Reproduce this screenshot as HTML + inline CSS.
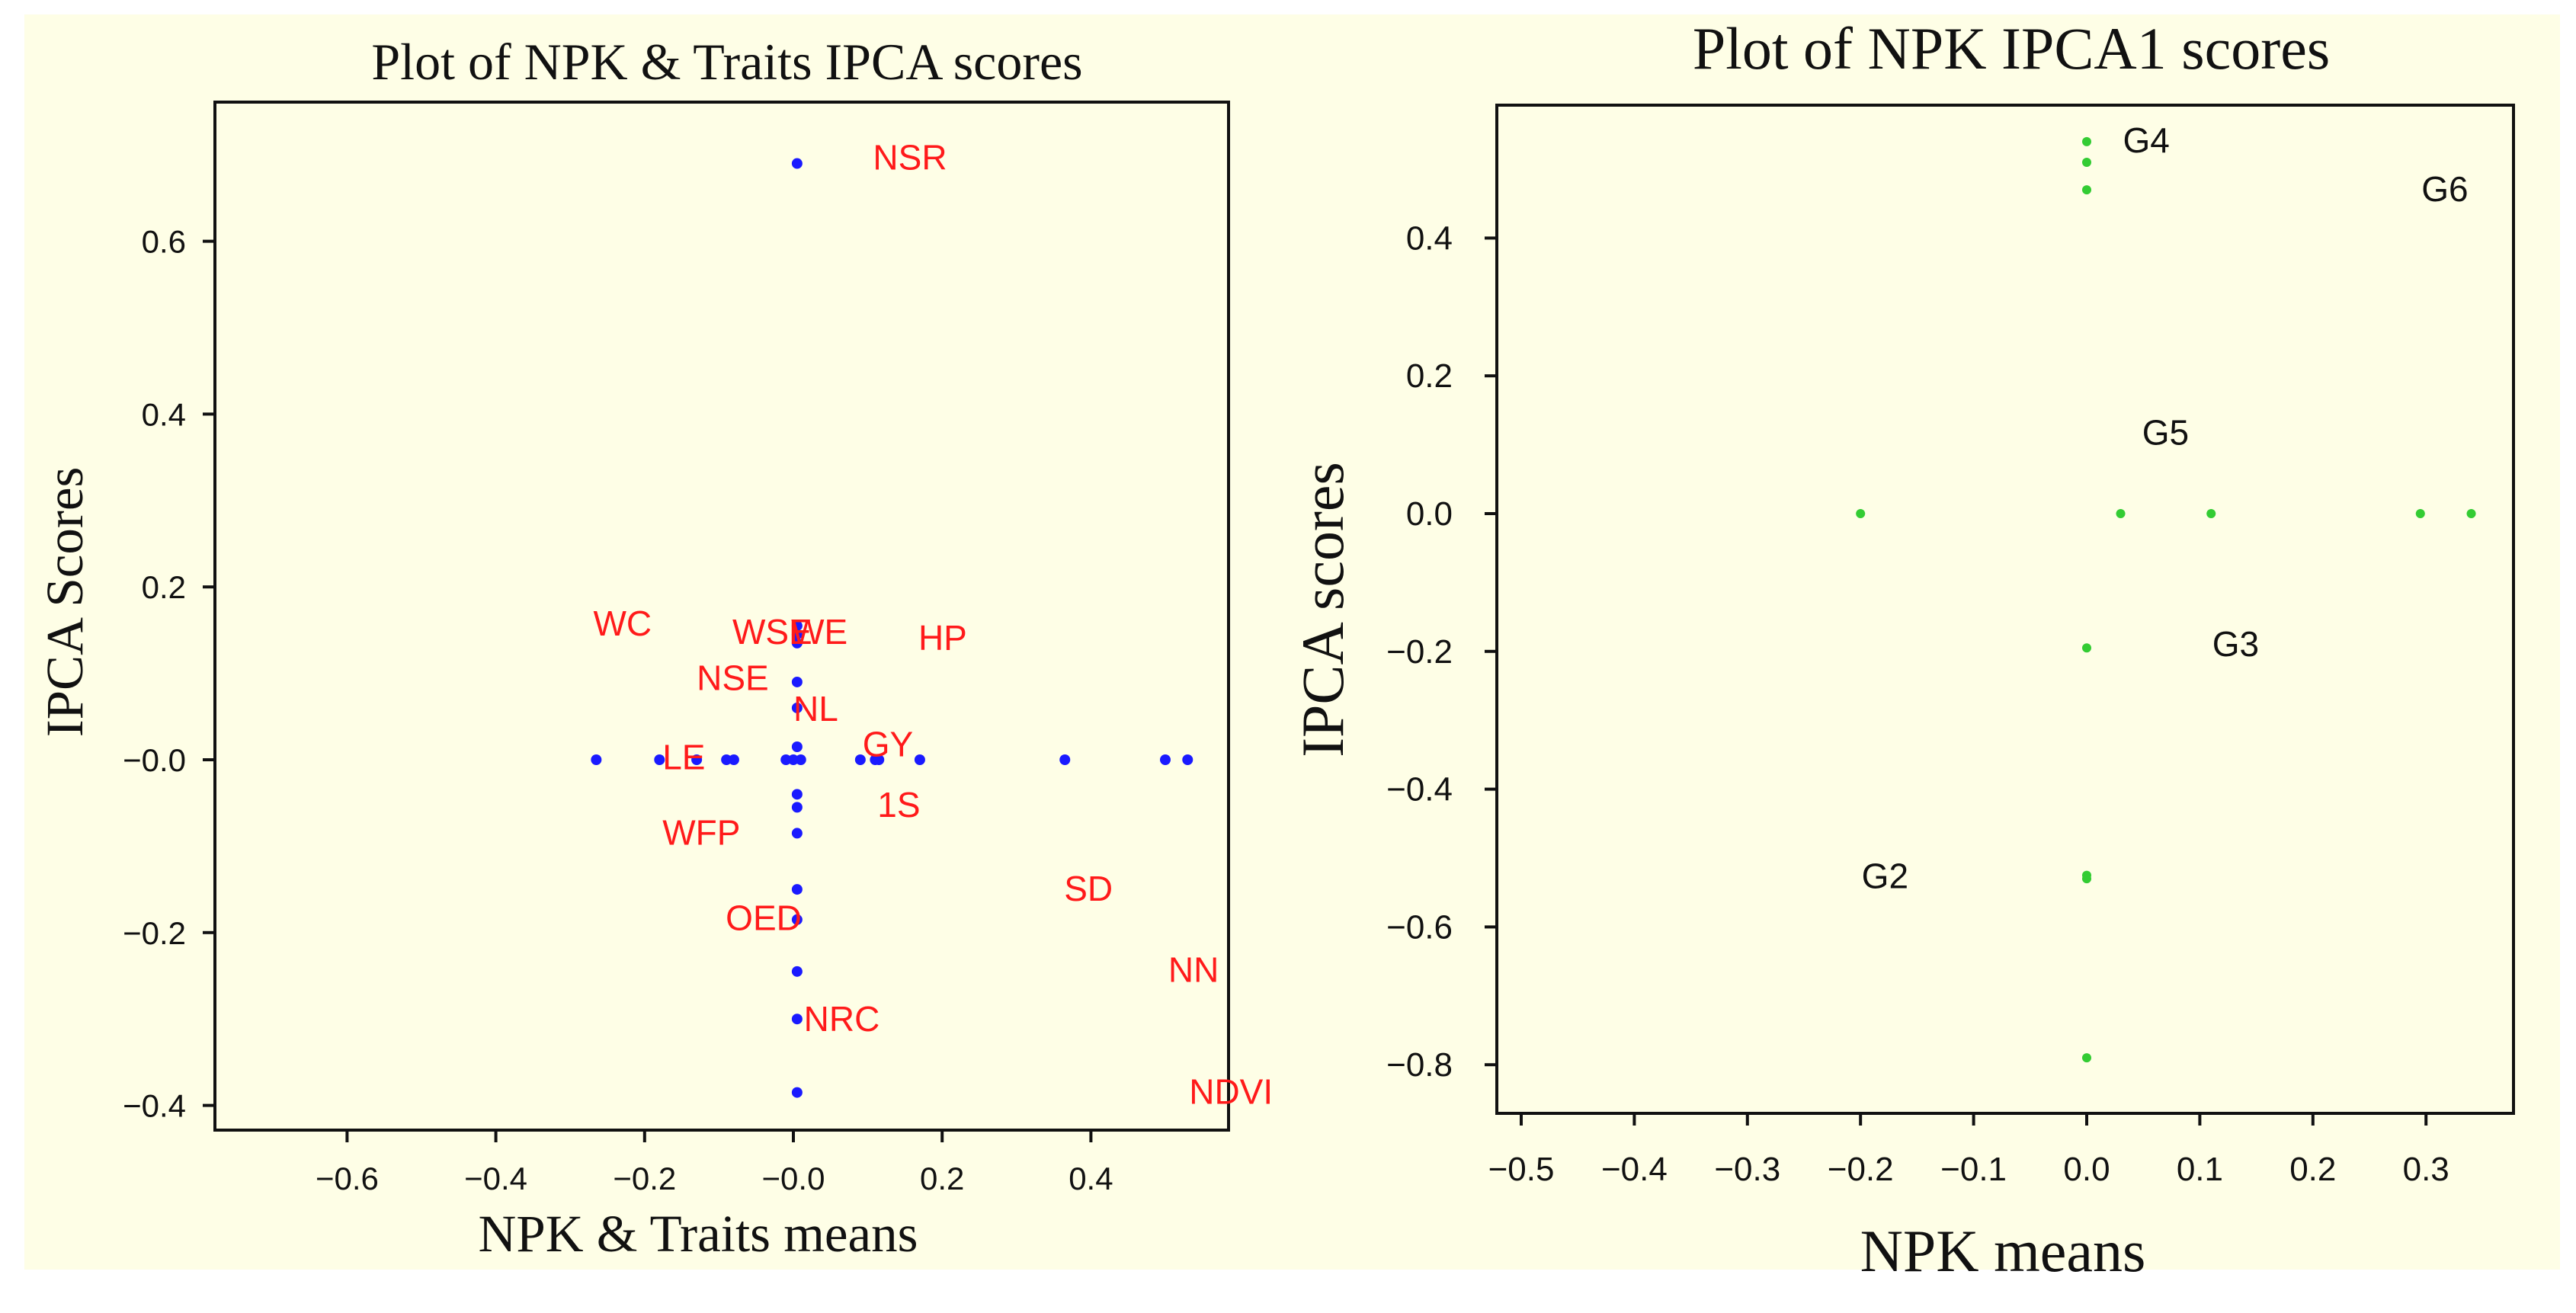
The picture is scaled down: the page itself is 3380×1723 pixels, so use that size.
<!DOCTYPE html>
<html><head><meta charset="utf-8"><style>
html,body{margin:0;padding:0;background:#fff;}
svg{display:block;}
</style></head><body>
<svg id="chart" width="3380" height="1723" viewBox="0 0 3380 1723" xmlns="http://www.w3.org/2000/svg">
<rect x="32" y="19" width="3327" height="1647" fill="#fefee6"/>
<g id="left"></g>
<g id="right"></g>
</svg>
<script>
// Left chart data
const leftXTicks = [-0.6, -0.4, -0.2, 0.0, 0.2, 0.4];
const leftXTickLabels = ["\u22120.6", "\u22120.4", "\u22120.2", "\u22120.0", "0.2", "0.4"];
const leftYTicks = [0.6, 0.4, 0.2, 0.0, -0.2, -0.4];
const leftYTickLabels = ["0.6", "0.4", "0.2", "\u22120.0", "\u22120.2", "\u22120.4"];
const leftPointsX = [-0.265,-0.18,-0.13,-0.09,-0.08,-0.01,0.0,0.01,0.09,0.11,0.115,0.17,0.365,0.5,0.53,
  0.005,0.005,0.005,0.005,0.005,0.005,0.005,0.005,0.005,0.005,0.005,0.005,0.005,0.005,0.005];
const leftPointsY = [0,0,0,0,0,0,0,0,0,0,0,0,0,0,0,
  0.69,0.155,0.145,0.135,0.09,0.06,0.015,-0.04,-0.055,-0.085,-0.15,-0.185,-0.245,-0.30,-0.385];
const leftLabelNames = ["NSR","WC","WSE","WE","HP","NSE","NL","GY","LE","1S","WFP","SD","OED","NN","NRC","NDVI"];
const leftLabelX = [0.107,-0.269,-0.082,-0.003,0.168,-0.130,0.0,0.093,-0.176,0.113,-0.176,0.364,-0.091,0.504,0.014,0.532];
const leftLabelY = [0.697,0.158,0.148,0.148,0.141,0.095,0.059,0.018,0.003,-0.052,-0.084,-0.149,-0.183,-0.243,-0.300,-0.384];

// Right chart data
const rightXTicks = [-0.5,-0.4,-0.3,-0.2,-0.1,0.0,0.1,0.2,0.3];
const rightXTickLabels = ["\u22120.5","\u22120.4","\u22120.3","\u22120.2","\u22120.1","0.0","0.1","0.2","0.3"];
const rightYTicks = [0.4,0.2,0.0,-0.2,-0.4,-0.6,-0.8];
const rightYTickLabels = ["0.4","0.2","0.0","\u22120.2","\u22120.4","\u22120.6","\u22120.8"];
const rightPointsX = [0,0,0,-0.2,0.03,0.11,0.295,0.34,0,0,0,0];
const rightPointsY = [0.54,0.51,0.47,0,0,0,0,0,-0.195,-0.525,-0.53,-0.79];
const rightLabelNames = ["G4","G6","G5","G3","G2"];
const rightLabelX = [0.032,0.296,0.049,0.111,-0.199];
const rightLabelY = [0.542,0.471,0.118,-0.189,-0.526];

const NS = "http://www.w3.org/2000/svg";
function mk(parent, tag, attrs, text){
  const e = document.createElementNS(NS, tag);
  for (const k in attrs) e.setAttribute(k, attrs[k]);
  if (text !== undefined) e.textContent = text;
  parent.appendChild(e);
  return e;
}

function drawChart(g, cfg){
  const sx = v => cfg.x0 + v * cfg.kx;
  const sy = v => cfg.y0 - v * cfg.ky;
  const frame = mk(g, 'rect', {x:cfg.L, y:cfg.T, width:cfg.R-cfg.L, height:cfg.B-cfg.T, fill:'none', stroke:'#111', 'stroke-width':4});
  
  
  const title = mk(g, 'text', {x:cfg.titleX, y:cfg.titleY, 'text-anchor':'middle', 'font-family':'Liberation Serif, serif', 'font-size':cfg.titleSize, fill:'#111'}, cfg.title);
  
  
  const xt = mk(g, 'text', {x:cfg.xTitleX, y:cfg.xTitleY, 'text-anchor':'middle', 'font-family':'Liberation Serif, serif', 'font-size':cfg.axisTitleSize, fill:'#111'}, cfg.xTitle);
  
  
  const yt = mk(g, 'text', {x:0, y:0, transform:`translate(${cfg.yTitleX},${cfg.yTitleY}) rotate(-90)`, 'text-anchor':'middle', 'font-family':'Liberation Serif, serif', 'font-size':cfg.axisTitleSize, fill:'#111'}, cfg.yTitle);
  
  
  cfg.xTicks.forEach((v,i)=>{
    const x = sx(v);
    const t = mk(g, 'line', {x1:x, x2:x, y1:cfg.B, y2:cfg.B+16, stroke:'#111', 'stroke-width':4});
    
    
    const l = mk(g, 'text', {x:x, y:cfg.B+cfg.xLabOff, 'text-anchor':'middle', 'font-family':'Liberation Sans, sans-serif', 'font-size':cfg.tickSize, fill:'#111'}, cfg.xTickLabels[i]);
    
    
  });
  cfg.yTicks.forEach((v,i)=>{
    const y = sy(v);
    const t = mk(g, 'line', {x1:cfg.L-16, x2:cfg.L, y1:y, y2:y, stroke:'#111', 'stroke-width':4});
    
    
    const l = mk(g, 'text', {x:cfg.L-cfg.yLabOff, y:y+15, 'text-anchor':'end', 'font-family':'Liberation Sans, sans-serif', 'font-size':cfg.tickSize, fill:'#111'}, cfg.yTickLabels[i]);
    
    
  });
  cfg.px.forEach((v,i)=>{
    const c = mk(g, 'circle', {cx:sx(v), cy:sy(cfg.py[i]), r:cfg.r, fill:cfg.pointColor});
    
    
  });
  cfg.labels.forEach((n,i)=>{
    const t = mk(g, 'text', {x:sx(cfg.lx[i]), y:sy(cfg.ly[i])+16, 'font-family':'Liberation Sans, sans-serif', 'font-size':cfg.labelSize, fill:cfg.labelColor}, n);
    
    
  });
}

drawChart(document.getElementById('left'), {
  L:282, T:134, R:1612, B:1483, x0:1041, kx:976, y0:997, ky:1134,
  title:'Plot of NPK & Traits IPCA scores', titleX:954, titleY:104, titleSize:68,
  xTitle:'NPK & Traits means', xTitleX:916, xTitleY:1642, axisTitleSize:69,
  yTitle:'IPCA Scores', yTitleX:108, yTitleY:790,
  tickSize:42, xLabOff:78, yLabOff:38,
  xTicks:leftXTicks, xTickLabels:leftXTickLabels, yTicks:leftYTicks, yTickLabels:leftYTickLabels,
  px:leftPointsX, py:leftPointsY, r:7, pointColor:'#1a1aff',
  labels:leftLabelNames, lx:leftLabelX, ly:leftLabelY, labelSize:46, labelColor:'#ff1a1a'
});
drawChart(document.getElementById('right'), {
  L:1964, T:138, R:3298, B:1461, x0:2738, kx:1484, y0:674, ky:904,
  title:'Plot of NPK IPCA1 scores', titleX:2639, titleY:90, titleSize:78,
  xTitle:'NPK means', xTitleX:2628, xTitleY:1668, axisTitleSize:78,
  yTitle:'IPCA scores', yTitleX:1762, yTitleY:800,
  tickSize:44, xLabOff:88, yLabOff:58,
  xTicks:rightXTicks, xTickLabels:rightXTickLabels, yTicks:rightYTicks, yTickLabels:rightYTickLabels,
  px:rightPointsX, py:rightPointsY, r:6, pointColor:'#33cc33',
  labels:rightLabelNames, lx:rightLabelX, ly:rightLabelY, labelSize:46, labelColor:'#111'
});
</script>
</body></html>
